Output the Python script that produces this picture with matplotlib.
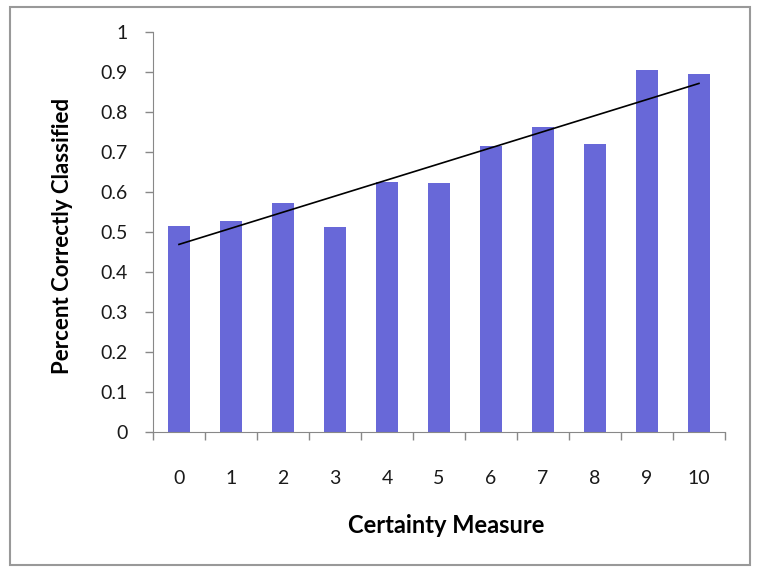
import numpy as np
import matplotlib
matplotlib.use('Agg')
import matplotlib.pyplot as plt
from matplotlib.patches import Rectangle

# Data
categories = ['0', '1', '2', '3', '4', '5', '6', '7', '8', '9', '10']
percent_correct = [0.516, 0.527, 0.573, 0.513, 0.626, 0.623, 0.715, 0.762, 0.719, 0.905, 0.894]
y_ticks = [0, 0.1, 0.2, 0.3, 0.4, 0.5, 0.6, 0.7, 0.8, 0.9, 1]
y_tick_labels = ['0', '0.1', '0.2', '0.3', '0.4', '0.5', '0.6', '0.7', '0.8', '0.9', '1']

plt.rcParams['font.family'] = ['Lato', 'DejaVu Sans']

fig = plt.figure(figsize=(7.58, 5.71), dpi=100)
ax = fig.add_axes([0.2018, 0.2434, 0.7546, 0.7005])

x = np.arange(len(categories))
ax.bar(x, percent_correct, width=0.42, color='#6868D8', zorder=2)

# linear trendline
slope, intercept = np.polyfit(x, percent_correct, 1)
ax.plot([x[0], x[-1]], [intercept + slope * x[0], intercept + slope * x[-1]],
        color='black', lw=1.2, zorder=3)

ax.set_xlim(-0.5, len(categories) - 0.5)
ax.set_ylim(0, 1)

ax.set_yticks(y_ticks)
ax.set_yticklabels(y_tick_labels)
ax.set_xticks(x)
ax.set_xticklabels(categories)
ax.set_xticks(np.arange(-0.5, len(categories)), minor=True)

ax.tick_params(axis='y', length=6, width=1, color='#888888', pad=12,
               labelsize=14, labelcolor='#1a1a1a')
ax.tick_params(axis='x', which='major', length=0, pad=27,
               labelsize=14, labelcolor='#1a1a1a')
ax.tick_params(axis='x', which='minor', length=6, width=1, color='#888888')

for side in ['top', 'right']:
    ax.spines[side].set_visible(False)
for side in ['left', 'bottom']:
    ax.spines[side].set_color('#888888')

ax.set_ylabel('Percent Correctly Classified', fontsize=16, fontweight='bold', va='center')
ax.yaxis.set_label_coords(-0.159, 0.49)
ax.set_xlabel('Certainty Measure', fontsize=17, fontweight='bold', va='center')
ax.xaxis.set_label_coords(0.512, -0.2325)

# outer chart border
fig.patches.append(Rectangle((10 / 758, 6 / 571), 740 / 758, 558 / 571,
                             transform=fig.transFigure, fill=False,
                             edgecolor='#999999', lw=1.5))

fig.savefig('out.png', dpi=100)
